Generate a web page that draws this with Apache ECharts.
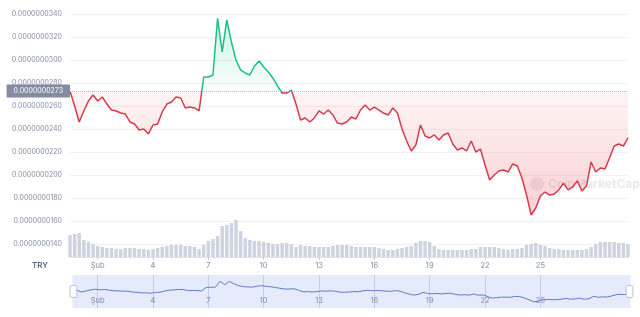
<!DOCTYPE html>
<html>
<head>
<meta charset="utf-8">
<script src="https://cdn.jsdelivr.net/npm/echarts@6/dist/echarts.min.js"></script>
<style>
    html, body { margin: 0; padding: 0; background: #fff; }
    #chart { width: 640px; height: 317px; }
</style>
</head>
<body>
<div id="chart"></div>
<script>
// price in units of 0.0000000001 TRY, one point every 6 hours from 30 Jan 12:00
const price = [
    273, 260, 246.1, 255.7, 264.3, 269.6, 264.3, 267.8, 261.7, 256.5,
    255.7, 253.9, 253.0, 246.1, 244.3, 239.1, 240.0, 235.7, 243.5, 244.3,
    254.8, 261.7, 263.5, 267.8, 267.0, 258.3, 259.1, 258.3, 255.7, 285.2,
    285.2, 287.0, 336.3, 307.0, 334.8, 315.7, 300.0, 291.3, 288.7, 287.0,
    294.8, 299.1, 293.9, 289.6, 284.3, 277.4, 271.3, 271.3, 273.9, 261.7,
    247.8, 249.6, 246.1, 249.6, 255.7, 253.0, 256.5, 252.2, 245.2, 244.3,
    246.1, 250.4, 248.7, 256.5, 260.9, 256.5, 259.1, 256.5, 253.9, 252.2,
    258.3, 253.9, 240.0, 229.6, 220.9, 226.1, 243.5, 233.9, 232.2, 234.8,
    230.4, 234.8, 236.5, 227.0, 221.7, 223.5, 220.9, 229.6, 220.0, 222.6,
    208.7, 195.6, 200.0, 203.5, 204.3, 202.6, 209.6, 207.8, 197.4, 182.6,
    165.2, 171.3, 181.7, 185.2, 182.6, 183.5, 187.0, 193.0, 187.0, 189.6,
    194.8, 186.1, 190.4, 211.3, 202.6, 206.1, 205.2, 214.8, 225.2, 227.0,
    225.2, 232.2
];
// volume, relative bar heights
const volume = [
    22, 23, 24, 17, 15, 13, 11, 10, 9, 9,
    8, 8, 9, 9, 9, 8, 8, 7, 8, 9,
    10, 11, 12, 12, 12, 11, 11, 10, 8, 12,
    16, 18, 21, 31, 32, 34, 37, 26, 19, 17,
    16, 16, 15, 14, 13, 13, 14, 14, 13, 10,
    12, 11, 11, 10, 10, 10, 10, 11, 12, 12,
    12, 11, 10, 10, 10, 10, 10, 9, 8, 7,
    7, 8, 9, 10, 11, 14, 16, 16, 15, 11,
    8, 7, 7, 7, 7, 7, 7, 8, 8, 10,
    10, 10, 10, 9, 8, 7, 8, 8, 9, 12,
    13, 14, 12, 11, 9, 8, 8, 7, 7, 7,
    7, 7, 8, 10, 13, 15, 15, 15, 15, 14,
    14, 13
];
const baseline = 273;
const tickIndex = [6, 18, 30, 42, 54, 66, 78, 90, 102];
const tickText = ['Şub', '4', '7', '10', '13', '16', '19', '22', '25'];

// category labels, 6 hour steps
const times = [];
const t0 = Date.UTC(2020, 0, 30, 12);
for (let i = 0; i < price.length; i++) {
    let d = new Date(t0 + i * 6 * 3600 * 1000);
    times.push(d.getUTCDate() + '.' + (d.getUTCMonth() + 1) + ' ' + d.getUTCHours() + ':00');
}

const isTick = idx => tickIndex.indexOf(idx) >= 0;
const tickLabel = (v, idx) => tickText[tickIndex.indexOf(idx)];
const fmtPrice = v => (v * 1e-10).toFixed(10);
const font = 'Inter';
const grey = '#858ca2';
const red = '#d63a4c';
const green = '#19c07f';

let chart = echarts.init(document.getElementById('chart'));
let option = {
    animation: false,
    grid: [
        {left: 70, right: 12, top: 14, height: 230},
        {left: 70, right: 12, top: 218, height: 39},
        {left: 70, right: 12, top: 275, height: 33}
    ],
    xAxis: [
        {gridIndex: 0, type: 'category', data: times, boundaryGap: false, show: false},
        {
            gridIndex: 1, type: 'category', data: times, boundaryGap: false,
            axisLine: {lineStyle: {color: '#dfe2e8'}},
            axisTick: {interval: isTick, length: 3, lineStyle: {color: '#c9ced8'}},
            axisLabel: {interval: isTick, formatter: tickLabel, color: grey, fontSize: 7.5, fontFamily: font, margin: 5}
        },
        {
            gridIndex: 2, type: 'category', data: times, boundaryGap: false,
            axisLine: {show: false}, axisTick: {show: false},
            axisLabel: {inside: true, interval: isTick, formatter: tickLabel, color: grey, fontSize: 7.5, fontFamily: font, margin: 3},
            splitLine: {show: true, interval: isTick, lineStyle: {color: '#d6ddec'}}
        }
    ],
    yAxis: [
        {
            gridIndex: 0, type: 'value', min: 140, max: 340, interval: 20,
            axisLine: {show: false}, axisTick: {show: false},
            axisLabel: {formatter: fmtPrice, color: grey, fontSize: 7, fontFamily: font, margin: 8},
            splitLine: {lineStyle: {color: '#f0f1f4'}}
        },
        {gridIndex: 1, type: 'value', min: 0, max: 39, show: false},
        {gridIndex: 2, type: 'value', min: 0, max: 1, show: false}
    ],
    visualMap: {
        show: false, type: 'piecewise', seriesIndex: 0, dimension: 1,
        pieces: [
            {gt: 0, lte: baseline, color: red},
            {gt: baseline, lte: 1000, color: green}
        ],
        outOfRange: {color: red}
    },
    dataZoom: [{
        type: 'slider', xAxisIndex: [0, 1], filterMode: 'none',
        left: 70, right: 12, top: 275, height: 33,
        start: 0, end: 100, showDetail: false, brushSelect: false, moveHandleSize: 0,
        borderColor: 'transparent', backgroundColor: 'transparent',
        fillerColor: 'rgba(110,145,225,0.18)',
        dataBackground: {lineStyle: {color: '#5b79c2', width: 1, opacity: 1}, areaStyle: {opacity: 0}},
        selectedDataBackground: {lineStyle: {color: '#5b79c2', width: 1, opacity: 1}, areaStyle: {opacity: 0}},
        handleIcon: 'path://M2,0h4a2,2,0,0,1,2,2v10a2,2,0,0,1-2,2h-4a2,2,0,0,1-2-2v-10a2,2,0,0,1,2-2Z',
        handleSize: '36%',
        handleStyle: {color: '#fff', borderColor: '#b8bfcc'}
    }],
    graphic: [
        {
            type: 'text', left: 32, top: 262,
            style: {text: 'TRY', font: '600 8px Inter', fill: '#58667e'}
        },
        {
            type: 'group', left: 530, top: 177,
            children: [
                {type: 'circle', shape: {cx: 7, cy: 7, r: 7}, style: {fill: 'rgba(150,160,182,0.18)'}},
                {type: 'text', x: 18, y: 1, style: {text: 'CoinMarketCap', font: 'bold 12px Inter', fill: 'rgba(150,160,182,0.24)'}}
            ]
        }
    ],
    series: [
        {
            type: 'line', xAxisIndex: 0, yAxisIndex: 0, data: price,
            symbol: 'none', lineStyle: {width: 1.5}, z: 3,
            areaStyle: {
                origin: baseline,
                color: new echarts.graphic.LinearGradient(0, 0, 0, 1, [
                    {offset: 0, color: 'rgba(22,199,132,0.3)'},
                    {offset: 0.364, color: 'rgba(22,199,132,0.04)'},
                    {offset: 0.364, color: 'rgba(234,57,67,0.07)'},
                    {offset: 1, color: 'rgba(234,57,67,0.34)'}
                ])
            },
            markLine: {
                silent: true, symbol: 'none',
                data: [{yAxis: baseline}],
                lineStyle: {type: 'dotted', color: '#b4bac6', width: 1},
                label: {
                    position: 'start', distance: 0, formatter: p => fmtPrice(p.value),
                    color: '#fff', backgroundColor: '#858ca2', padding: [3, 7],
                    fontSize: 7, fontFamily: font
                }
            }
        },
        {
            type: 'bar', xAxisIndex: 1, yAxisIndex: 1, data: volume,
            barCategoryGap: '25%',
            itemStyle: {color: '#cdd3df'}
        }
    ]
};
chart.setOption(option);
</script>
</body>
</html>
